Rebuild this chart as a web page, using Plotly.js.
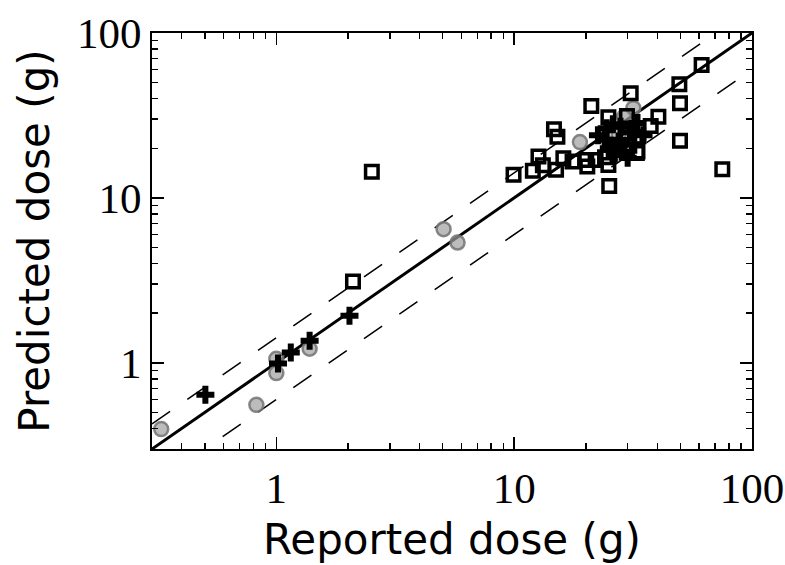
<!DOCTYPE html>
<html>
<head>
<meta charset="utf-8">
<script src="https://cdn.plot.ly/plotly-3.0.1.min.js"></script>
<style>html,body{margin:0;padding:0;background:#fff;}#chart{width:785px;height:565px;}</style>
</head>
<body>
<div id="chart"></div>
<script>
// Reference lines
const refX = [0.3, 100];
const upperFactor = 1.42;
const lowerFactor = 0.6;

// Gray circles
const circleX = [0.328, 0.824, 1.0, 1.0, 1.38, 5.05, 5.78, 18.9, 31.7, 29.0, 27.5];
const circleY = [0.396, 0.556, 0.866, 1.057, 1.216, 6.46, 5.36, 21.8, 35.0, 31.0, 24.0];

// Black crosses
const crossX = [0.503, 1.016, 1.15, 1.38, 2.03, 24.5, 22.5, 26.0, 27.5, 25.0, 29.0, 31.0, 33.0, 35.0, 30.0, 28.0, 32.0, 24.0, 26.5];
const crossY = [0.64, 0.99, 1.155, 1.36, 1.93, 26.4, 24.0, 28.0, 22.0, 20.0, 19.0, 25.0, 28.5, 24.0, 17.5, 27.0, 21.0, 22.5, 18.5];

// Open squares
const squareX = [2.1, 2.52, 9.94, 11.98, 12.65, 13.2, 15.0, 14.7, 15.2, 16.1, 17.6, 20.1, 20.3, 21.1, 24.9, 25.1, 24.1, 24.9, 30.9, 29.8, 30.0, 29.8, 32.8, 27.0, 37.5, 40.4, 49.5, 49.8, 49.8, 61.4, 75.0, 32.2, 25.3, 33.0, 27.7, 22.0];
const squareY = [3.11, 14.4, 13.8, 14.6, 17.8, 15.8, 14.8, 26.1, 23.5, 17.4, 16.6, 17.0, 15.5, 36.1, 30.8, 11.8, 17.65, 15.85, 43.1, 31.4, 24.9, 19.5, 18.7, 19.5, 27.3, 31.1, 48.9, 37.5, 22.2, 64.0, 14.9, 23.5, 21.0, 19.1, 19.5, 17.0];

const traces = [
  {x: refX, y: refX.map(v => v * upperFactor), mode: 'lines', line: {color: 'black', width: 1.5, dash: '22px,21px'}, hoverinfo: 'skip'},
  {x: refX, y: refX.map(v => v * lowerFactor), mode: 'lines', line: {color: 'black', width: 1.5, dash: '22px,21px'}, hoverinfo: 'skip'},
  {x: refX, y: refX, mode: 'lines', line: {color: 'black', width: 3}, hoverinfo: 'skip'},
  {x: circleX, y: circleY, mode: 'markers', marker: {symbol: 'circle', size: 14, color: 'rgba(160,160,160,0.7)', line: {color: 'rgba(115,115,115,0.85)', width: 2.5}}},
  {x: crossX, y: crossY, mode: 'markers', marker: {symbol: 'cross', size: 15, color: 'black', line: {width: 0}}},
  {x: squareX, y: squareY, mode: 'markers', marker: {symbol: 'square-open', size: 12.5, color: 'black', line: {color: 'black', width: 3.5}}}
];

const axisCommon = {
  type: 'log',
  dtick: 1,
  tick0: 0,
  ticks: 'inside',
  ticklen: 12,
  tickwidth: 1.5,
  tickcolor: 'black',
  minor: {ticks: 'inside', ticklen: 6, tickwidth: 1.5, tickcolor: 'black', showgrid: false},
  showgrid: false,
  zeroline: false,
  showline: true,
  linecolor: 'black',
  linewidth: 2,
  mirror: 'allticks',
  tickfont: {family: 'Liberation Serif, serif', size: 43, color: 'black'},
  range: [Math.log10(0.3), 2]
};

const layout = {
  width: 785,
  height: 565,
  margin: {l: 152, r: 33, t: 33, b: 116},
  paper_bgcolor: 'white',
  plot_bgcolor: 'white',
  showlegend: false,
  xaxis: Object.assign({}, axisCommon, {
    title: {text: 'Reported dose (g)', font: {family: 'DejaVu Sans, sans-serif', size: 42, color: 'black'}, standoff: 14}
  }),
  yaxis: Object.assign({}, axisCommon, {
    title: {text: 'Predicted dose (g)', font: {family: 'DejaVu Sans, sans-serif', size: 42, color: 'black'}, standoff: 14}
  })
};

Plotly.newPlot('chart', traces, layout, {staticPlot: true, displayModeBar: false});
</script>
</body>
</html>
